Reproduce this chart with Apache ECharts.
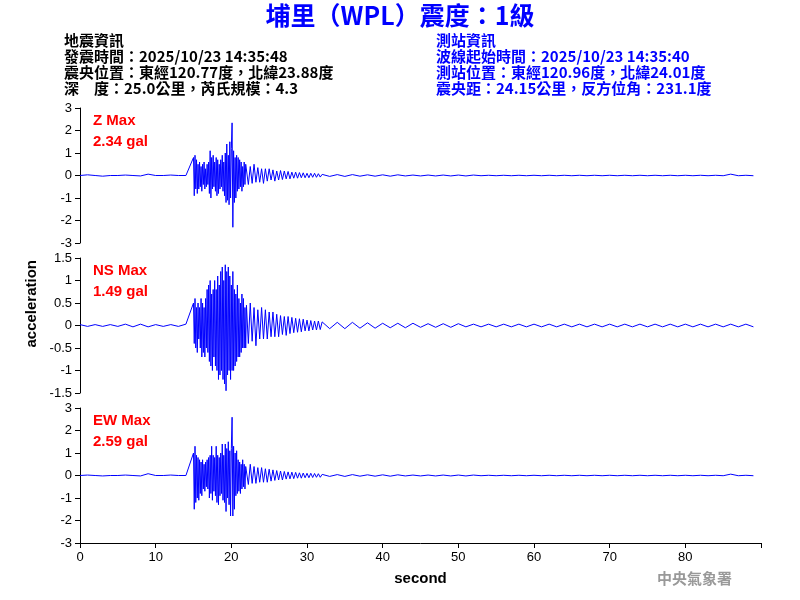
<!DOCTYPE html>
<html><head><meta charset="utf-8">
<script src="https://cdn.jsdelivr.net/npm/echarts@6/dist/echarts.min.js"></script>
<style>html,body{margin:0;background:#fff}#c{width:800px;height:600px}</style>
</head><body><div id="c"></div>
<script>
// time segments: [start, step, count]
var timeSegments = [[0, 1, 15], [15, 0.1, 70], [22, 0.25, 40], [32, 1, 58]];

var zValues = [
  0,0.03,0,-0.03,0,0,0.02,0,-0.02,0.06,0,0,0.02,0,0,
  0.8,-0.9,0.9,-0.6,0.7,-0.8,0.5,-0.6,0.6,-0.5,
  0.4,-0.7,0.5,-0.4,0.6,-0.6,0.3,-0.5,0.5,-0.4,
  0.6,-0.8,1.1,-1.0,0.8,-0.6,0.9,-0.5,0.6,-0.7,
  0.8,-0.9,0.7,-0.8,0.5,-0.6,0.7,-0.5,0.9,-0.7,
  0.6,-0.9,1.0,-1.2,1.4,-1.1,0.9,-1.3,1.5,-1.0,
  1.2,2.34,-2.3,1.1,-1.2,0.8,-1.0,0.9,-0.7,0.8,
  -0.6,0.7,-0.5,0.6,-0.7,0.4,-0.5,0.6,-0.4,0.5,
  0.45,-0.4,0.4,-0.35,0.5,-0.3,0.35,-0.3,0.3,-0.35,0.3,-0.25,0.3,-0.2,0.25,-0.25,0.2,-0.2,0.22,-0.18,
  0.2,-0.15,0.18,-0.15,0.15,-0.12,0.15,-0.12,0.13,-0.1,0.12,-0.1,0.1,-0.1,0.1,-0.08,0.1,-0.08,0.08,-0.07,
  0.05,-0.04,0.04,-0.04,0.04,-0.03,0.03,-0.03,0.03,-0.03,0.03,-0.02,0.02,-0.02,0.02,-0.02,0.02,-0.02,0.02,-0.02,
  0.02,-0.01,0.01,-0.01,0.01,-0.01,0.01,-0.01,0.01,-0.01,0.01,-0.01,0.01,-0.01,0.01,-0.01,0.01,-0.01,0.01,-0.01,
  0.01,-0.01,0.01,-0.01,0.01,-0.01,0.01,-0.01,0.01,-0.01,0.01,-0.01,0.01,-0.01,0.06,-0.01,0.01,-0.01
];
var nsValues = [
  0.02,-0.02,0.02,-0.02,0.02,-0.02,0.03,-0.03,0.03,-0.03,0.02,-0.02,0.02,-0.02,0.03,
  0.5,-0.4,0.6,-0.5,0.4,-0.6,0.5,-0.3,0.4,-0.5,
  0.6,-0.7,0.5,-0.6,0.4,-0.7,0.6,-0.5,0.8,-0.6,
  0.9,-0.8,1.0,-0.9,0.7,-1.0,0.8,-0.7,1.0,-0.9,
  0.8,-1.0,1.1,-1.2,0.9,-1.1,1.2,-1.0,1.3,-1.2,
  1.0,-1.3,1.35,-1.45,1.2,-1.1,1.3,-1.0,1.1,-1.2,
  0.9,-1.0,1.2,-1.0,0.8,-0.9,0.7,-0.8,0.9,-0.7,
  0.6,-0.7,0.5,-0.6,0.7,-0.5,0.6,-0.5,0.4,-0.5,
  0.45,-0.4,0.5,-0.35,0.4,-0.45,0.35,-0.3,0.4,-0.3,0.35,-0.3,0.3,-0.25,0.3,-0.25,0.25,-0.25,0.22,-0.2,
  0.2,-0.22,0.2,-0.18,0.18,-0.16,0.16,-0.15,0.15,-0.14,0.14,-0.12,0.12,-0.12,0.11,-0.1,0.1,-0.1,0.1,-0.09,
  0.08,-0.07,0.07,-0.07,0.07,-0.06,0.06,-0.06,0.05,-0.05,0.05,-0.05,0.05,-0.04,0.04,-0.04,0.04,-0.04,0.04,-0.03,
  0.03,-0.03,0.03,-0.03,0.03,-0.03,0.03,-0.03,0.03,-0.03,0.03,-0.03,0.03,-0.03,0.03,-0.03,0.03,-0.03,0.03,-0.03,
  0.03,-0.03,0.03,-0.03,0.03,-0.03,0.03,-0.03,0.03,-0.03,0.03,-0.03,0.03,-0.03,0.03,-0.03,0.03,-0.03
];
var ewValues = [
  0,0.02,0,-0.02,0,0,0.02,0,-0.02,0.08,0,0,0.02,0,0,
  1.0,-1.5,1.3,-1.2,0.9,-1.0,0.8,-1.1,0.7,-0.8,
  0.6,-0.9,0.7,-0.6,0.5,-0.7,0.6,-0.5,0.7,-0.6,
  0.8,-1.0,0.9,-0.8,1.3,-1.1,0.9,-0.7,0.8,-0.9,
  1.3,-1.2,0.9,-1.3,0.8,-0.9,1.0,-0.8,1.4,-1.1,
  0.9,-1.2,1.4,-1.6,1.2,-1.0,1.5,-1.3,1.1,-1.8,
  1.2,2.59,-1.8,1.3,-1.5,1.0,-0.9,1.1,-0.8,0.7,
  -0.7,0.6,-0.8,0.5,-0.6,0.7,-0.5,0.5,-0.6,0.4,
  0.45,-0.4,0.5,-0.35,0.4,-0.35,0.35,-0.3,0.35,-0.3,0.3,-0.3,0.28,-0.25,0.25,-0.22,0.22,-0.2,0.2,-0.2,
  0.18,-0.16,0.16,-0.15,0.15,-0.14,0.14,-0.12,0.12,-0.12,0.11,-0.1,0.1,-0.1,0.1,-0.09,0.09,-0.08,0.08,-0.08,
  0.05,-0.04,0.04,-0.04,0.04,-0.03,0.03,-0.03,0.03,-0.03,0.03,-0.02,0.02,-0.02,0.02,-0.02,0.02,-0.02,0.02,-0.02,
  0.02,-0.01,0.01,-0.01,0.01,-0.01,0.01,-0.01,0.01,-0.01,0.01,-0.01,0.01,-0.01,0.01,-0.01,0.01,-0.01,0.01,-0.01,
  0.01,-0.01,0.01,-0.01,0.01,-0.01,0.01,-0.01,0.01,-0.01,0.01,-0.01,0.01,-0.01,0.06,-0.01,0.01,-0.01
];
var maxLabels = [['Z Max', '2.34 gal'], ['NS Max', '1.49 gal'], ['EW Max', '2.59 gal']];
var yRanges = [[-3, 3, 1], [-1.5, 1.5, 0.5], [-3, 3, 1]];
var leftInfo = ['地震資訊', '發震時間：2025/10/23 14:35:48', '震央位置：東經120.77度，北緯23.88度', '深　度：25.0公里，芮氏規模：4.3'];
var rightInfo = ['測站資訊', '波線起始時間：2025/10/23 14:35:40', '測站位置：東經120.96度，北緯24.01度', '震央距：24.15公里，反方位角：231.1度'];

var times = [];
timeSegments.forEach(function (s) {
  for (var i = 0; i < s[2]; i++) times.push(+(s[0] + i * s[1]).toFixed(2));
});
function pairs(vals) {
  return vals.map(function (v, i) { return [times[i], v]; });
}

var font = 'Arial, "Liberation Sans", sans-serif';
var cjk = '"Noto Sans CJK TC", Arial, sans-serif';
var tops = [108, 258, 408];
var grid = [], xAxis = [], yAxis = [], series = [];
var allVals = [zValues, nsValues, ewValues];
for (var k = 0; k < 3; k++) {
  grid.push({left: 80, width: 681, top: tops[k], height: 135});
  xAxis.push({
    type: 'value', gridIndex: k, min: 0, max: 90, interval: 10, show: k === 2,
    axisLine: {onZero: false, lineStyle: {color: '#000'}}, axisTick: {lineStyle: {color: '#000'}, length: 5},
    splitLine: {show: false},
    axisLabel: {color: '#000', fontFamily: font, fontSize: 13, formatter: function (v) { return v === 90 ? '' : v; }},
    name: k === 2 ? 'second' : '', nameLocation: 'middle', nameGap: 28,
    nameTextStyle: {color: '#000', fontFamily: font, fontSize: 15, fontWeight: 'bold'}
  });
  yAxis.push({
    type: 'value', gridIndex: k, min: yRanges[k][0], max: yRanges[k][1], interval: yRanges[k][2],
    axisLine: {show: true, onZero: false, lineStyle: {color: '#000'}},
    axisTick: {show: true, lineStyle: {color: '#000'}, length: 5},
    splitLine: {show: false},
    axisLabel: {color: '#000', fontFamily: font, fontSize: 13}
  });
  series.push({
    type: 'line', xAxisIndex: k, yAxisIndex: k, data: pairs(allVals[k]),
    showSymbol: false, animation: false, lineStyle: {color: '#0000ff', width: 1}
  });
}

var graphic = [
  {type: 'text', left: 'center', top: 3, style: {text: '埔里（WPL）震度：1級', fill: '#0000ff', font: 'bold 25px ' + cjk}},
  {type: 'text', left: 24, top: 260, rotation: Math.PI / 2, style: {text: 'acceleration', fill: '#000', font: 'bold 15px ' + font}},
  {type: 'text', left: 657, top: 571, style: {text: '中央氣象署', fill: '#999', font: 'bold 15px ' + cjk}}
];
leftInfo.forEach(function (t, i) {
  graphic.push({type: 'text', left: 64, top: 33 + i * 16, style: {text: t, fill: '#000', font: 'bold 15px ' + cjk}});
});
rightInfo.forEach(function (t, i) {
  graphic.push({type: 'text', left: 436, top: 33 + i * 16, style: {text: t, fill: '#0000ff', font: 'bold 15px ' + cjk}});
});
maxLabels.forEach(function (m, k) {
  graphic.push({type: 'text', left: 93, top: tops[k] + 2, style: {text: m[0] + '\n' + m[1], fill: '#ff0000', font: 'bold 15px ' + font, lineHeight: 21}});
});

var chart = echarts.init(document.getElementById('c'));
chart.setOption({animation: false, grid: grid, xAxis: xAxis, yAxis: yAxis, series: series, graphic: graphic});
</script></body></html>
